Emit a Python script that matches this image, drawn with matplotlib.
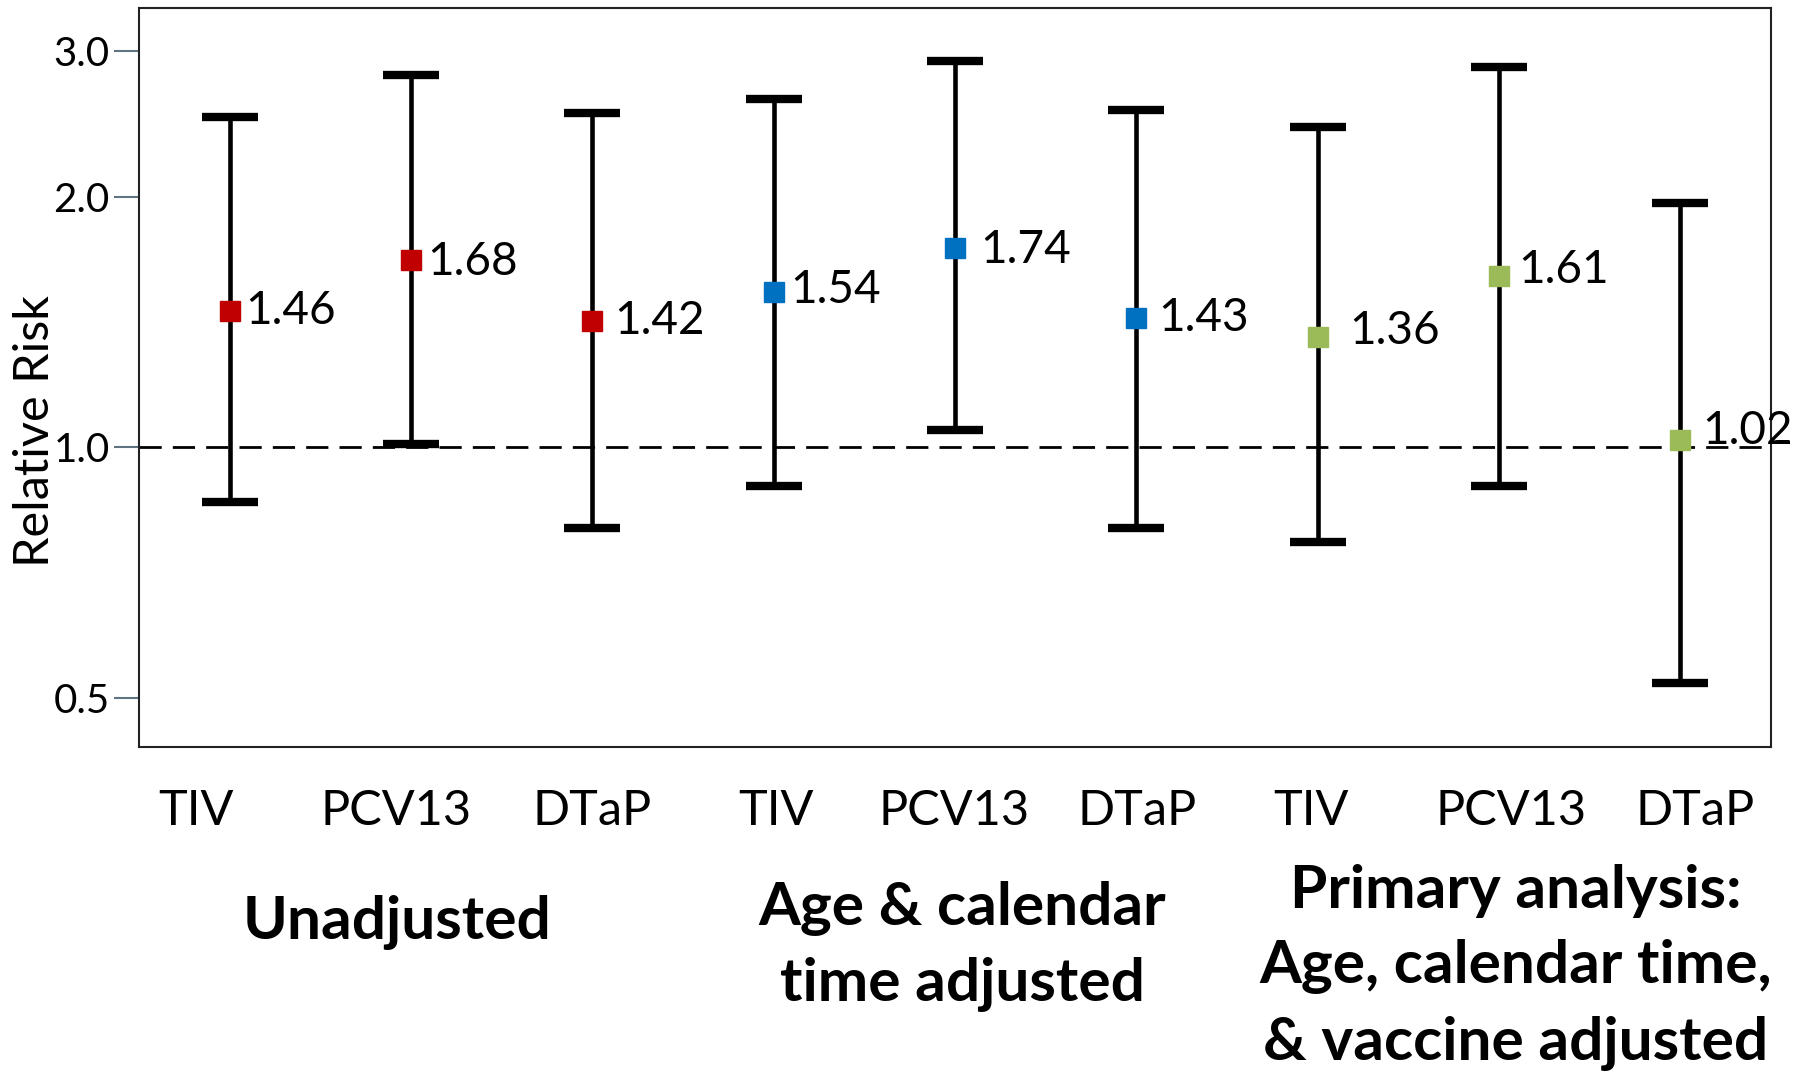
import matplotlib.pyplot as plt
import matplotlib.transforms as mtransforms

plt.rcParams['font.family'] = ['Lato', 'DejaVu Sans']

# data
vaccines = ['TIV', 'PCV13', 'DTaP'] * 3
rr = [1.46, 1.68, 1.42, 1.54, 1.74, 1.43, 1.36, 1.61, 1.02]
ci_low = [0.86, 1.01, 0.80, 0.90, 1.05, 0.80, 0.77, 0.90, 0.52]
ci_high = [2.50, 2.81, 2.53, 2.63, 2.92, 2.55, 2.43, 2.87, 1.97]
groups = ['Unadjusted', 'Age & calendar\ntime adjusted',
          'Primary analysis:\nAge, calendar time,\n& vaccine adjusted']
colors = ['#C00000'] * 3 + ['#0070C0'] * 3 + ['#9BBB59'] * 3

# layout tweaks (label nudges, in points / axis units)
lab_dx = [11, 12, 16, 12, 18, 16, 23, 14, 16]
lab_dy = [0, -1, 0, 1, -2, 0, 4, 4, 7]
tick_shift = [-0.185, -0.083, 0, 0.013, -0.006, 0.006, -0.038, 0.064, 0.083]
group_x = [0.92, 4.04, 7.09]
group_y = [-0.237, -0.27, -0.298]

fig = plt.figure(figsize=(18.1, 10.71), dpi=100)
ax = fig.add_axes([0.0768, 0.3025, 0.9017, 0.6900])

x = list(range(len(rr)))
ax.axhline(1.0, color='black', lw=2, dashes=(8, 4), zorder=1)

for xi, v, lo, hi, c, dx, dy in zip(x, rr, ci_low, ci_high, colors, lab_dx, lab_dy):
    ax.errorbar(xi, v, yerr=[[v - lo], [hi - v]], fmt='none', ecolor='black',
                elinewidth=3.3, capsize=20, capthick=6, zorder=2)
    ax.plot(xi, v, marker='s', ms=15, color=c, mec=c, zorder=3)
    ax.annotate(f'{v:.2f}', (xi, v), xytext=(dx, dy), textcoords='offset points',
                ha='left', va='center', fontsize=33, annotation_clip=False)

ax.set_yscale('log')
ax.set_ylim(0.436, 3.38)
ax.set_xlim(-0.5, 8.5)
ax.set_yticks([0.5, 1.0, 2.0, 3.0])
ax.set_yticklabels(['0.5', '1.0', '2.0', '3.0'])
ax.minorticks_off()
ax.tick_params(axis='y', length=18, width=1.5, color='#5f7480', pad=3, labelsize=29)
ax.yaxis.get_major_ticks()[1].tick1line.set_color('black')
ax.set_xticks([xi + s for xi, s in zip(x, tick_shift)])
ax.set_xticklabels(vaccines)
ax.tick_params(axis='x', length=0, pad=30, labelsize=35)
ax.set_ylabel('Relative Risk', fontsize=35)
ax.yaxis.set_label_coords(-0.05, 0.427)

for s in ax.spines.values():
    s.set_linewidth(1.5)
    s.set_color('#222222')

# group labels below the tick labels
trans = mtransforms.blended_transform_factory(ax.transData, ax.transAxes)
for gx, gy, g in zip(group_x, group_y, groups):
    ax.text(gx, gy, g, transform=trans, ha='center', va='center',
            fontsize=43.5, fontweight='bold', linespacing=1.49)

fig.savefig('out.png', dpi=100)
